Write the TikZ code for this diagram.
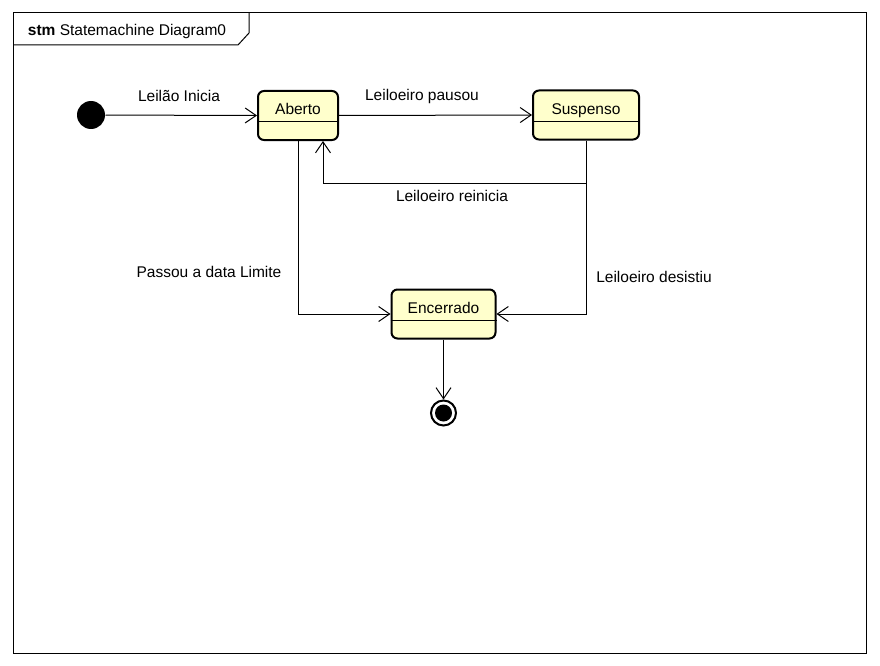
\documentclass[tikz,border=0pt]{standalone}
\usepackage{fontspec}
\setmainfont{Liberation Sans}
\usetikzlibrary{arrows.meta}
\definecolor{statefill}{RGB}{255,255,204}
\begin{document}
\begin{tikzpicture}[x=1pt,y=-1pt,line width=1pt,
  every node/.style={font=\fontsize{15.5}{18}\selectfont},
  state/.style={draw,line width=2pt,rounded corners=6pt,fill=statefill,
    inner sep=0pt,text height=24pt,text depth=25pt},
  trans/.style={-{Straight Barb[length=11pt,width=15pt]}}]
  \useasboundingbox (0,0) rectangle (880,666);
  % frame
  \draw (13,13) rectangle (866,653);
  \draw (13,45) -- (238,45) -- (249,33) -- (249,13);
  \node (title) at (127,31) {\textbf{stm} Statemachine Diagram0};
  % states
  \node[circle,fill=black,minimum size=28pt,inner sep=0pt] (ini) at (91,115) {};
  \node[state,minimum width=80pt] (aberto) at (298,115.5) {Aberto};
  \node[state,minimum width=106pt] (suspenso) at (586,115) {Suspenso};
  \node[state,minimum width=104pt] (encerrado) at (443.5,314) {Encerrado};
  \node[circle,draw,line width=2pt,minimum size=25pt,inner sep=0pt] (fim) at (443.5,413) {};
  \fill (fim) circle (8.5pt);
  \draw ([yshift=-6.5pt]aberto.west) -- ([yshift=-6.5pt]aberto.east);
  \draw ([yshift=-7pt]suspenso.west) -- ([yshift=-7pt]suspenso.east);
  \draw ([yshift=-6pt]encerrado.west) -- ([yshift=-6pt]encerrado.east);
  % transitions
  \coordinate (volta) at (586,183);
  \draw[trans] (ini) -- (aberto.west);
  \draw[trans] (aberto.east) -- (suspenso.west);
  \draw[trans] (suspenso.south) -- (volta) -| ([xshift=25pt]aberto.south);
  \draw[trans] (aberto.south) |- (encerrado.west);
  \draw[trans] (volta) |- (encerrado.east);
  \draw[trans] (encerrado.south) -- (fim.north);
  % labels
  \node (l1) at (179,96) {Leilão Inicia};
  \node (l2) at (422,96) {Leiloeiro pausou};
  \node (l3) at (452,196) {Leiloeiro reinicia};
  \node (l4) at (209,272) {Passou a data Limite};
  \node (l5) at (654,277) {Leiloeiro desistiu};
\end{tikzpicture}
\end{document}
